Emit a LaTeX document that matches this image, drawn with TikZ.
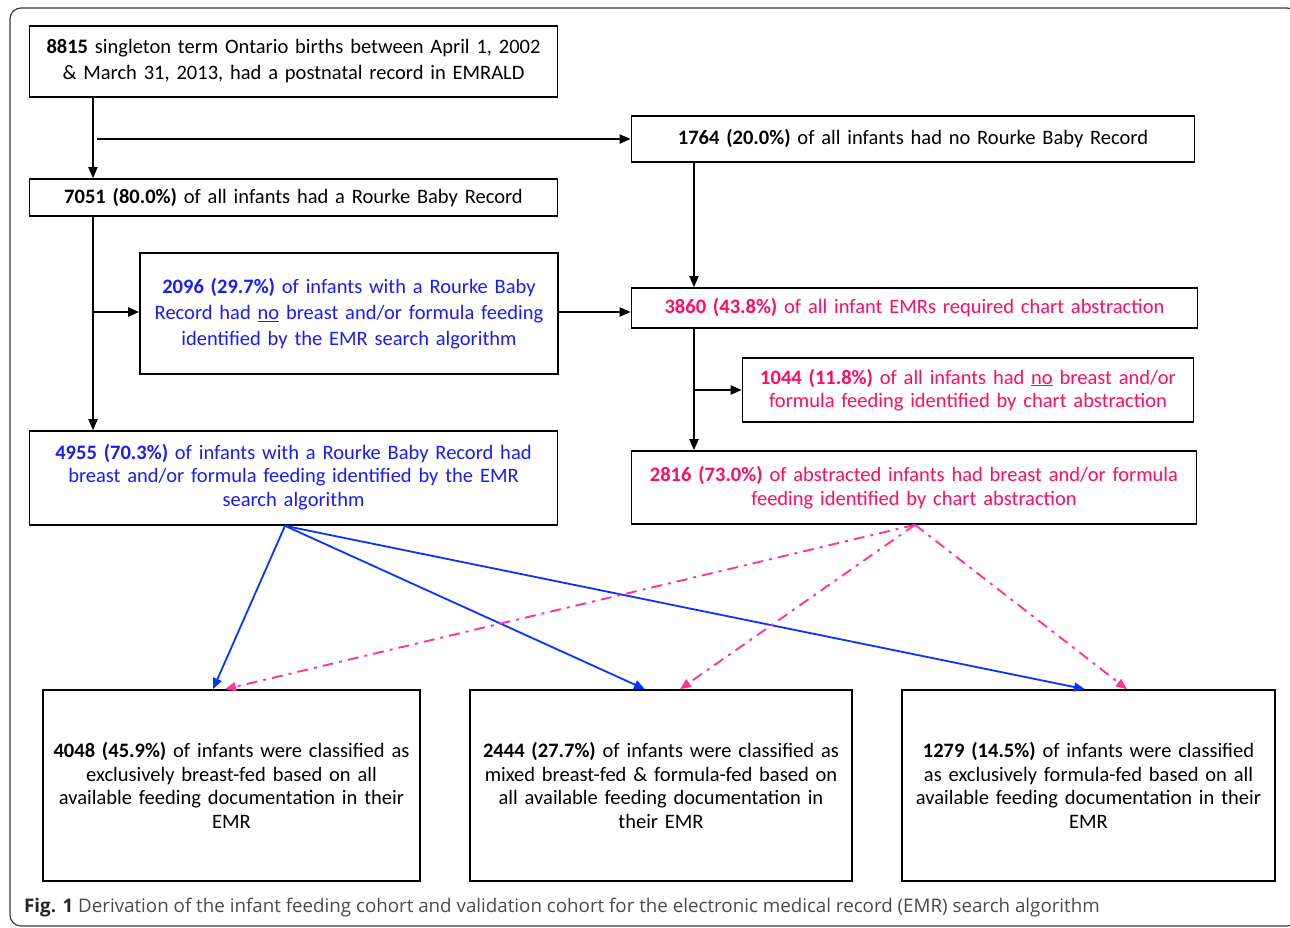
\documentclass[tikz,border=0pt]{standalone}
\usepackage{fontspec}
\setmainfont{Carlito}
\newfontfamily\capfont{Open Sans}
\usetikzlibrary{arrows.meta,calc}
\definecolor{tblue}{HTML}{1A1AFF}
\definecolor{lblue}{HTML}{0A33FF}
\definecolor{tpink}{HTML}{FF0A64}
\definecolor{lpink}{HTML}{FF3399}
\definecolor{capgray}{HTML}{4A4A4A}
\definecolor{framegray}{HTML}{3A3A3A}
\tikzset{
  box/.style={draw=black, line width=1.6pt, align=center, inner sep=4pt,
    font=\fontsize{20.5}{24.5}\selectfont},
  wide/.style={font=\fontsize{20.5}{26}\selectfont},
  tight/.style={font=\fontsize{20.5}{23.5}\selectfont},
  arr/.style={line width=1.8pt, -{Triangle[length=11pt,width=9pt]}},
  barr/.style={lblue, line width=1.8pt, -{Triangle[length=11pt,width=9pt]}},
  parr/.style={lpink, line width=1.9pt, dash pattern=on 11pt off 6pt on 3pt off 6pt,
    -{Triangle[length=11pt,width=9pt]}},
}
\begin{document}
\begin{tikzpicture}[x=1pt,y=-1pt]
\useasboundingbox (0,0) rectangle (1290,927);
\draw[framegray, line width=1.2pt, rounded corners=11pt] (10,8) rectangle (1298,926);

\node[box, wide, minimum width=527pt, minimum height=71pt, text width=520pt] (b1) at (293.5,61.5)
  {\textbf{8815} singleton term Ontario births between April 1, 2002\\ \& March 31, 2013, had a postnatal record in EMRALD};
\node[box, minimum width=562pt, minimum height=46pt, text width=555pt] (b2) at (913,139)
  {\textbf{1764 (20.0\%)} of all infants had no Rourke Baby Record};
\node[box, minimum width=527pt, minimum height=37pt, text width=520pt] (b3) at (293.5,197.5)
  {\textbf{7051 (80.0\%)} of all infants had a Rourke Baby Record};
\node[box, wide, tblue, draw=black, minimum width=416pt, minimum height=121pt, text width=410pt] (b4) at (349,313.5)
  {\textbf{2096 (29.7\%)} of infants with a Rourke Baby\\ Record had \underline{no} breast and/or formula feeding\\ identified by the EMR search algorithm};
\node[box, tpink, draw=black, minimum width=565pt, minimum height=40pt, text width=558pt] (b5) at (914.5,308)
  {\textbf{3860 (43.8\%)} of all infant EMRs required chart abstraction};
\node[box, tight, tpink, draw=black, minimum width=450pt, minimum height=64pt, text width=443pt] (b6) at (968,390)
  {\textbf{1044 (11.8\%)} of all infants had \underline{no} breast and/or\\ formula feeding identified by chart abstraction};
\node[box, tight, tblue, draw=black, minimum width=527pt, minimum height=94pt, text width=520pt] (b7) at (293.5,478)
  {\textbf{4955 (70.3\%)} of infants with a Rourke Baby Record had\\ breast and/or formula feeding identified by the EMR\\ search algorithm\\[-17.5pt]\mbox{}};
\node[box, minimum width=564pt, tpink, draw=black, minimum height=73pt, text width=557pt] (b8) at (914,487.5)
  {\textbf{2816 (73.0\%)} of abstracted infants had breast and/or formula\\ feeding identified by chart abstraction};
\node[box, tight, minimum width=375pt, minimum height=191pt, text width=369pt] (b9) at (231.5,785.5)
  {\textbf{4048 (45.9\%)} of infants were classified as\\ exclusively breast-fed based on all\\ available feeding documentation in their\\ EMR};
\node[box, tight, minimum width=380pt, minimum height=191pt, text width=374pt] (b10) at (661,785.5)
  {\textbf{2444 (27.7\%)} of infants were classified as\\ mixed breast-fed \& formula-fed based on\\ all available feeding documentation in\\ their EMR};
\node[box, tight, minimum width=371pt, minimum height=191pt, text width=365pt] (b11) at (1088.5,785.5)
  {\textbf{1279 (14.5\%)} of infants were classified\\ as exclusively formula-fed based on all\\ available feeding documentation in their\\ EMR};

\node[anchor=west, inner sep=0pt, font=\capfont\fontsize{18.75}{22}\selectfont, text=capgray] (cap) at (24,908)
  {\textbf{\color{black!85}Fig. 1} Derivation of the infant feeding cohort and validation cohort for the electronic medical record (EMR) search algorithm};

% black connectors
\coordinate (xa) at (93,0);
\coordinate (xb) at (694,0);
\coordinate (j1) at (97,139);
\coordinate (j2) at (93,312);
\coordinate (j3) at (694,390);
\draw[arr] (b1.south -| xa) -- (b3.north -| xa);
\draw[arr] (j1) -- (j1 -| b2.west);
\draw[arr] (b2.south -| xb) -- (b5.north -| xb);
\draw[arr] (b3.south -| xa) -- (b7.north -| xa);
\draw[arr] (j2) -- (j2 -| b4.west);
\draw[arr] (b4.east |- j2) -- (b5.west |- j2);
\draw[arr] (b5.south -| xb) -- (b8.north -| xb);
\draw[arr] (j3) -- (j3 -| b6.west);

% blue connectors
\coordinate (bs) at ($(b7.south)+(-8.5,0)$);
\draw[barr] (bs) -- ($(b9.north)+(-18.5,0)$);
\draw[barr] (bs) -- ($(b10.north)+(-16,0)$);
\draw[barr] (bs) -- ($(b11.north)+(-3.5,0)$);

% pink connectors
\coordinate (ps) at ($(b8.south)+(1,0)$);
\draw[parr] (ps) -- ($(b9.north)+(-6.5,0)$);
\draw[parr] (ps) -- ($(b10.north)+(19,0)$);
\draw[parr] (ps) -- ($(b11.north)+(38.5,0)$);
\end{tikzpicture}
\end{document}
